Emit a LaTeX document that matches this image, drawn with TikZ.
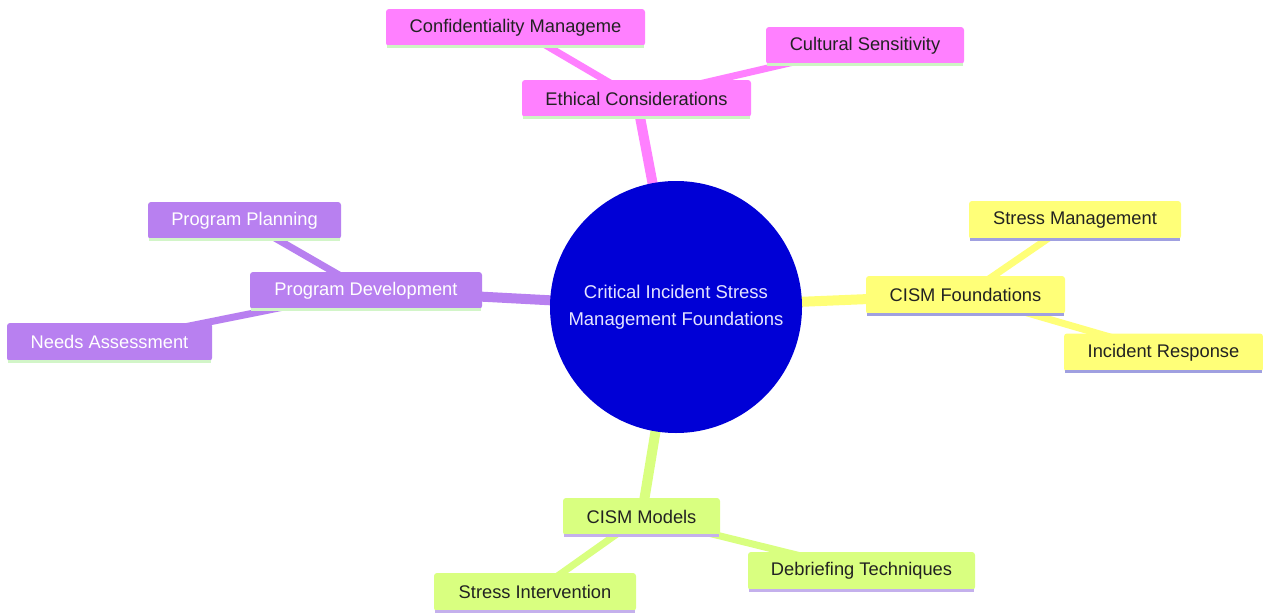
\documentclass[tikz,border=0pt]{standalone}
\usepackage{fontspec}
\setmainfont{Liberation Sans}
\usetikzlibrary{backgrounds}
\definecolor{rootblue}{RGB}{0,0,214}
\definecolor{pinkc}{RGB}{255,128,255}
\definecolor{purpc}{RGB}{184,128,240}
\definecolor{yelc}{RGB}{255,255,120}
\definecolor{grnc}{RGB}{217,255,128}
\definecolor{yelline}{RGB}{160,160,224}
\definecolor{grnline}{RGB}{196,176,236}
\definecolor{pinkline}{RGB}{205,245,195}
\definecolor{purpline}{RGB}{210,245,200}
\definecolor{txt}{RGB}{34,34,34}
\definecolor{roottxt}{RGB}{228,228,255}
\tikzset{
  mm/.style={rectangle, rounded corners=3pt, inner sep=0pt,
    font=\fontsize{18.3}{22}\selectfont, text=txt},
  pinkbox/.style={mm, fill=pinkc},
  purpbox/.style={mm, fill=purpc, text=white},
  yelbox/.style={mm, fill=yelc},
  grnbox/.style={mm, fill=grnc},
  rootedge/.style={line width=10pt},
  leafedge/.style={line width=7pt},
  underline/.style={line width=3pt},
}
\begin{document}
\begin{tikzpicture}[x=1pt,y=-1pt]
\useasboundingbox (0,0) rectangle (1263,613);

% root
\node[circle, fill=rootblue, minimum size=252pt, inner sep=0pt, text=roottxt,
  align=center, font=\fontsize{18.5}{27.5}\selectfont] (root) at (676,307)
  {Critical Incident Stress\\Management Foundations};

% pink branch
\node[pinkbox, minimum width=229pt, minimum height=37pt] (eth) at (636.5,98.5) {Ethical Considerations};
\node[pinkbox, minimum width=259pt, minimum height=37pt] (conf) at (515.5,27.5) {Confidentiality Manageme};
\node[pinkbox, minimum width=198pt, minimum height=37pt] (cult) at (865,45.5) {Cultural Sensitivity};

% yellow branch
\node[yelbox, minimum width=199pt, minimum height=38pt] (found) at (965.5,295) {CISM Foundations};
\node[yelbox, minimum width=212pt, minimum height=38pt] (stressm) at (1075,220) {Stress Management};
\node[yelbox, minimum width=199pt, minimum height=38pt] (incid) at (1163.5,352.5) {Incident Response};

% purple branch
\node[purpbox, minimum width=232pt, minimum height=37pt] (devel) at (366,290.5) {Program Development};
\node[purpbox, minimum width=193pt, minimum height=37pt] (plan) at (244.5,220.5) {Program Planning};
\node[purpbox, minimum width=205pt, minimum height=38pt] (needs) at (109.5,342) {Needs Assessment};

% green branch
\node[grnbox, minimum width=157pt, minimum height=37pt] (models) at (641.5,516.5) {CISM Models};
\node[grnbox, minimum width=202pt, minimum height=38pt] (interv) at (535,592) {Stress Intervention};
\node[grnbox, minimum width=227pt, minimum height=38pt] (debrief) at (861.5,571) {Debriefing Techniques};

% bottom lines
\foreach \n/\c in {eth/pinkline, conf/pinkline, cult/pinkline,
                   found/yelline, stressm/yelline, incid/yelline,
                   devel/purpline, plan/purpline, needs/purpline,
                   models/grnline, interv/grnline, debrief/grnline}
  \draw[underline, \c] ([xshift=1pt]\n.south west) -- ([xshift=-1pt]\n.south east);

\begin{pgfonlayer}{background}
  \fill[white] (0,0) rectangle (1263,613);
  \draw[rootedge, pinkc] (root.center) -- (eth.center);
  \draw[rootedge, yelc] (root.center) -- (found.center);
  \draw[rootedge, purpc] (root.center) -- (devel.center);
  \draw[rootedge, grnc] (root.center) -- (models.center);
  \draw[leafedge, pinkc] (eth.center) -- (conf.center);
  \draw[leafedge, pinkc] (eth.center) -- (cult.center);
  \draw[leafedge, yelc] (found.center) -- (stressm.center);
  \draw[leafedge, yelc] (found.center) -- (incid.center);
  \draw[leafedge, purpc] (devel.center) -- (plan.center);
  \draw[leafedge, purpc] (devel.center) -- (needs.center);
  \draw[leafedge, grnc] (models.center) -- (interv.center);
  \draw[leafedge, grnc] (models.center) -- (debrief.center);
\end{pgfonlayer}
\end{tikzpicture}
\end{document}
